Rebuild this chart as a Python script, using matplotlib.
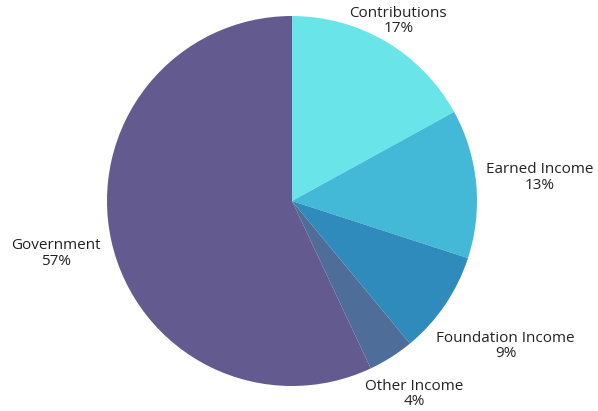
import numpy as np
import matplotlib
matplotlib.use("Agg")
import matplotlib.pyplot as plt

categories = ["Contributions", "Earned Income", "Foundation Income", "Other Income", "Government"]
values = [17, 13, 9, 4, 57]
colors = ["#69E5E9", "#44B9D7", "#2E8BBB", "#4F6D99", "#635A8F"]

# label distance from the pie centre, as multiples of the radius (styling)
label_dist = [1.13, 1.345, 1.395, 1.235, 1.305]

plt.rcParams['font.family'] = ['Open Sans', 'DejaVu Sans']

W, H = 598, 411
fig = plt.figure(figsize=(W / 100, H / 100), dpi=100)
ax = fig.add_axes([0, 0, 1, 1])

cx, cy, r = 292, 210, 185
wedges, _ = ax.pie(values, colors=colors, startangle=90, counterclock=False,
                   center=(cx, cy), radius=r, frame=True)
ax.set_xlim(0, W)
ax.set_ylim(0, H)
ax.set_aspect('equal')
ax.axis('off')

total = sum(values)
for w, cat, v, d in zip(wedges, categories, values, label_dist):
    ang = np.deg2rad((w.theta1 + w.theta2) / 2)
    x = cx + r * d * np.cos(ang)
    y = cy + r * d * np.sin(ang)
    ax.text(x, y, f"{cat}\n{round(v / total * 100)}%", ha='center', va='center',
            multialignment='center', fontsize=11, color='#222222', linespacing=1.05)

fig.savefig("out.png", dpi=100)
